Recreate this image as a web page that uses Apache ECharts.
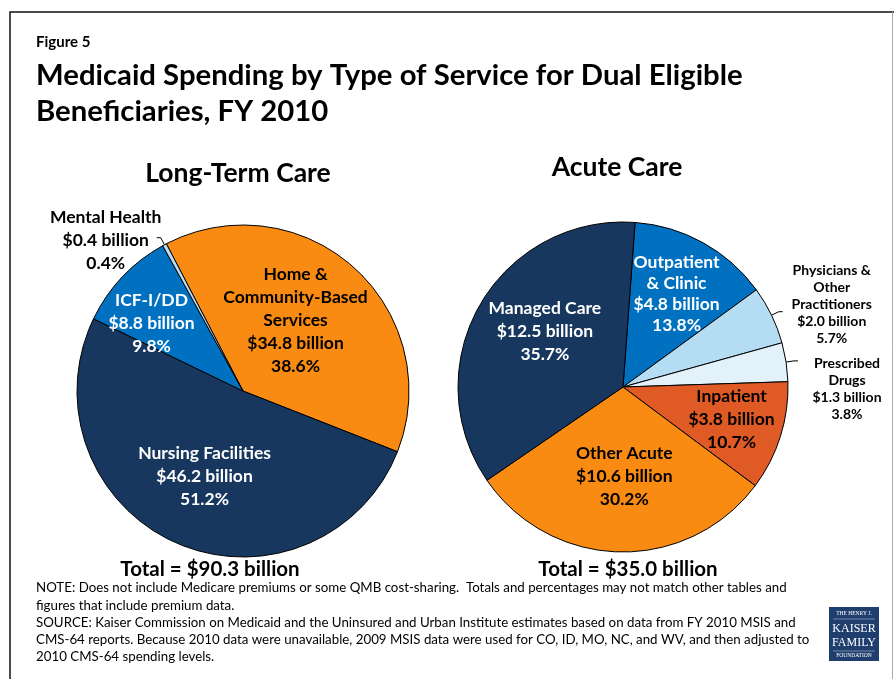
<!DOCTYPE html>
<html>
<head>
<meta charset="utf-8">
<script src="https://cdn.jsdelivr.net/npm/echarts@6/dist/echarts.min.js"></script>
<style>
  html, body { margin: 0; padding: 0; background: #fff; }
  #chart { width: 894px; height: 679px; }
</style>
</head>
<body>
<div id="chart"></div>
<script>
// Long-term care services (FY 2010, billions of dollars and share of total)
const ltcNames = ['Home &\nCommunity-Based\nServices', 'Nursing Facilities', 'ICF-I/DD', 'Mental Health'];
const ltcBillions = [34.8, 46.2, 8.8, 0.4];
const ltcShares = [38.6, 51.2, 9.8, 0.4];
const ltcTotal = 90.3;

// Acute care services
const acuteNames = ['Outpatient\n& Clinic', 'Physicians &\nOther\nPractitioners', 'Prescribed\nDrugs', 'Inpatient', 'Other Acute', 'Managed Care'];
const acuteBillions = [4.8, 2.0, 1.3, 3.8, 10.6, 12.5];
const acuteShares = [13.8, 5.7, 3.8, 10.7, 30.2, 35.7];
const acuteTotal = 35.0;

const noteLines = [
  'NOTE: Does not include Medicare premiums or some QMB cost-sharing.  Totals and percentages may not match other tables and',
  'figures that include premium data.',
  'SOURCE: Kaiser Commission on Medicaid and the Uninsured and Urban Institute estimates based on data from FY 2010 MSIS and',
  'CMS-64 reports. Because 2010 data were unavailable, 2009 MSIS data were used for CO, ID, MO, NC, and WV, and then adjusted to',
  '2010 CMS-64 spending levels.'
];

// Styling
const NAVY = '#17375E', ORANGE = '#F98A12', BLUE = '#0070C0', LIGHT = '#B4DDF3', PALE = '#E2F1FA', RUST = '#E05A26';
const FONT = 'Lato';

const ltcColors = [ORANGE, NAVY, BLUE, LIGHT];
const ltcTextColors = ['#000', '#fff', '#fff', '#000'];
const ltcOutside = [false, false, false, true];
const ltcFont = [[17.5, 23], [17.5, 23], [17.5, 23], [17.5, 23]];
const ltcNudge = [[-5, -7], [-4, 7], [-29, -9], [-46, 3]];

const acuteColors = [BLUE, LIGHT, PALE, RUST, ORANGE, NAVY];
const acuteTextColors = ['#fff', '#000', '#000', '#000', '#000', '#fff'];
const acuteOutside = [false, true, true, false, false, false];
const acuteFont = [[17.5, 21], [14, 17], [14, 17], [17.5, 23], [17.5, 23], [17.5, 23]];
const acuteNudge = [[12, -18], [44, -7], [44, 28], [27, 7], [3, 4], [-4, -13]];

function labelText(name, billions, share) {
  return name + '\n$' + billions.toFixed(1) + ' billion\n' + share.toFixed(1) + '%';
}

function buildData(names, billions, shares, colors, textColors, outside, fonts) {
  return names.map((name, i) => ({
    name: name,
    value: shares[i],
    itemStyle: { color: colors[i] },
    label: {
      show: true,
      position: outside[i] ? 'outside' : 'inside',
      formatter: labelText(name, billions[i], shares[i]),
      color: textColors[i],
      fontSize: fonts[i][0],
      lineHeight: fonts[i][1],
      fontWeight: 'bold',
      fontFamily: FONT
    },
    labelLine: outside[i] ? {
      show: true, length: 8, length2: 4, smooth: false,
      lineStyle: { color: '#000', width: 1 }
    } : { show: false }
  }));
}

function pieSeries(names, billions, shares, colors, textColors, outside, fonts, nudge, center, radius, startAngle) {
  return {
    type: 'pie',
    center: center,
    radius: radius,
    startAngle: startAngle,
    clockwise: true,
    silent: true,
    avoidLabelOverlap: false,
    itemStyle: { borderColor: '#000', borderWidth: 1 },
    data: buildData(names, billions, shares, colors, textColors, outside, fonts),
    labelLayout: function (p) {
      const n = nudge[p.dataIndex];
      return { dx: n[0], dy: n[1], align: 'center' };
    }
  };
}

function txt(x, y, text, size, weight, align, color, family) {
  return {
    type: 'text', x: x, y: y, silent: true,
    style: {
      text: text, fill: color || '#000',
      font: (weight || 'normal') + ' ' + size + 'px ' + (family || FONT),
      textAlign: align || 'left', textVerticalAlign: 'middle'
    }
  };
}

const graphics = [
  // frame
  { type: 'polyline', silent: true, shape: { points: [[10, 679], [10, 12], [894, 12]] }, style: { stroke: '#111', lineWidth: 1.5, fill: null } },
  { type: 'line', silent: true, shape: { x1: 892.5, y1: 12, x2: 892.5, y2: 679 }, style: { stroke: '#aaa', lineWidth: 1 } },
  txt(36, 42, 'Figure 5', 15, 'bold'),
  txt(36, 76, 'Medicaid Spending by Type of Service for Dual Eligible', 29.3, 'bold'),
  txt(36, 112, 'Beneficiaries, FY 2010', 29.3, 'bold'),
  txt(238, 173, 'Long-Term Care', 26.5, 'bold', 'center'),
  txt(617, 167, 'Acute Care', 26.5, 'bold', 'center'),
  txt(210, 569, 'Total = $' + ltcTotal.toFixed(1) + ' billion', 20.5, 'bold', 'center'),
  txt(628, 569, 'Total = $' + acuteTotal.toFixed(1) + ' billion', 20.5, 'bold', 'center'),
  // foundation mark
  { type: 'rect', silent: true, shape: { x: 829, y: 607, width: 50, height: 54 }, style: { fill: '#1F3E6D' } },
  txt(854, 614, 'THE HENRY J.', 5.5, 'normal', 'center', '#fff', 'Liberation Serif'),
  { type: 'line', silent: true, shape: { x1: 833, y1: 619, x2: 875, y2: 619 }, style: { stroke: '#c8d2e2', lineWidth: 0.5 } },
  txt(854, 629, 'KAISER', 12, 'normal', 'center', '#fff', 'Liberation Serif'),
  txt(854, 643, 'FAMILY', 12, 'normal', 'center', '#fff', 'Liberation Serif'),
  { type: 'line', silent: true, shape: { x1: 833, y1: 651, x2: 875, y2: 651 }, style: { stroke: '#c8d2e2', lineWidth: 0.5 } },
  txt(854, 656, 'FOUNDATION', 5.5, 'normal', 'center', '#fff', 'Liberation Serif')
];
noteLines.forEach((line, i) => graphics.push(txt(36, 588 + i * 17.3, line, 13.3, 'normal')));

const chart = echarts.init(document.getElementById('chart'), null, { renderer: 'canvas' });
chart.setOption({
  animation: false,
  backgroundColor: '#fff',
  series: [
    pieSeries(ltcNames, ltcBillions, ltcShares, ltcColors, ltcTextColors, ltcOutside, ltcFont, ltcNudge, [243, 391], 166, 117.5),
    pieSeries(acuteNames, acuteBillions, acuteShares, acuteColors, acuteTextColors, acuteOutside, acuteFont, acuteNudge, [623, 387], 165, 85.8)
  ],
  graphic: graphics
});
</script>
</body>
</html>
